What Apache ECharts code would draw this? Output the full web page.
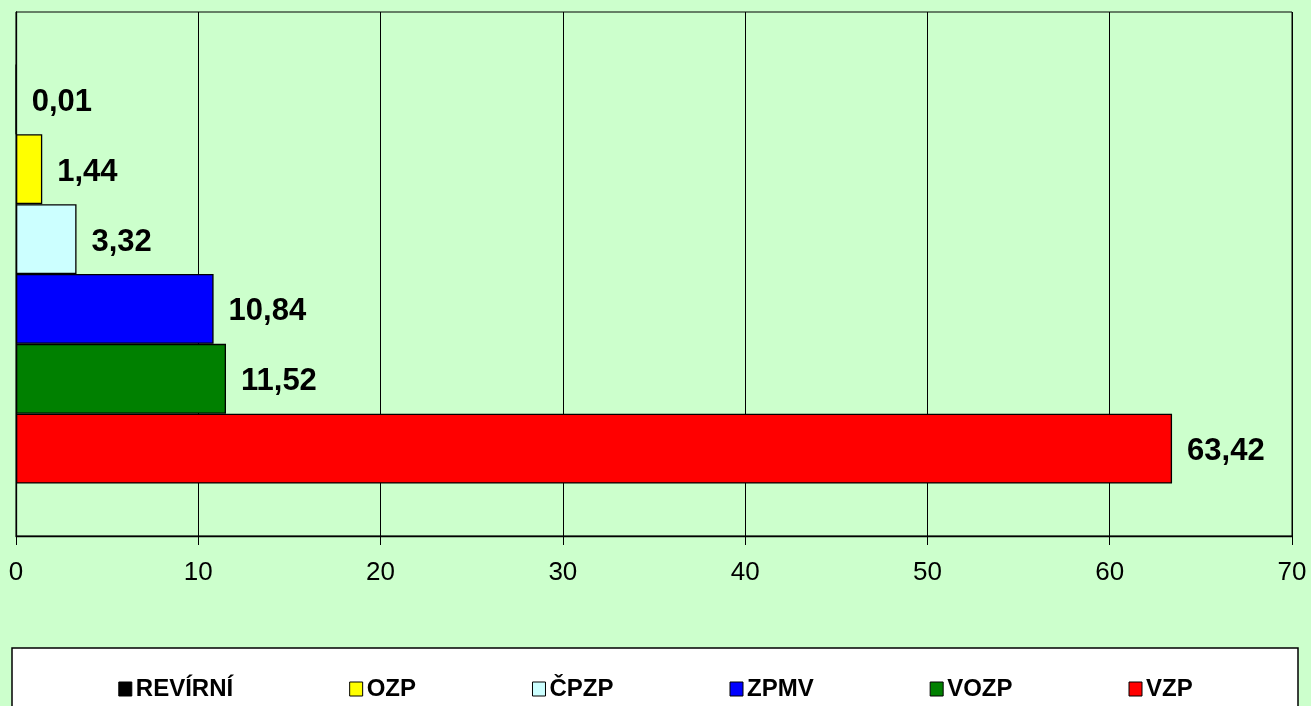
<!DOCTYPE html>
<html>
<head>
<meta charset="utf-8">
<script src="https://cdn.jsdelivr.net/npm/echarts@6/dist/echarts.min.js"></script>
<style>
html,body{margin:0;padding:0;background:#CCFFCC;}
#main{width:1311px;height:706px;}
</style>
</head>
<body>
<div id="main"></div>
<script>
// data: pojišťovny, podíl v %
var names = ['REVÍRNÍ', 'OZP', 'ČPZP', 'ZPMV', 'VOZP', 'VZP'];
var values = [0.01, 1.44, 3.32, 10.84, 11.52, 63.42];
var colors = ['#000000', '#FFFF00', '#CCFFFF', '#0000FF', '#008000', '#FF0000'];
var xTicks = [0, 10, 20, 30, 40, 50, 60, 70];

var FONT = '"Liberation Sans", Arial, sans-serif';

// first series is drawn on top of the band
var series = new Array();
for (var i = 0; i < names.length; i++) {
    series.push({
        type: 'bar',
        name: names[i],
        data: [values[i]],
        barGap: 0,
        barCategoryGap: '20%',
        itemStyle: { color: colors[i], borderColor: '#000', borderWidth: 1.3 },
        label: {
            show: true,
            position: 'right',
            distance: 15,
            offset: [0, 3],
            color: '#000',
            fontFamily: FONT,
            fontWeight: 'bold',
            fontSize: 31,
            formatter: function (p) {
                return p.value.toFixed(2).replace('.', ',');
            }
        }
    });
}

var option = {
    animation: false,
    backgroundColor: '#CCFFCC',
    grid: {
        left: 16, top: 12, right: 19, bottom: 170,
        show: true, borderColor: '#000', borderWidth: 1,
        backgroundColor: 'transparent'
    },
    xAxis: {
        type: 'value',
        min: xTicks[0],
        max: xTicks[xTicks.length - 1],
        interval: 10,
        axisLine: { show: true, lineStyle: { color: '#000', width: 1.3 } },
        axisTick: { show: true, length: 9, lineStyle: { color: '#000' } },
        axisLabel: { color: '#000', fontFamily: FONT, fontSize: 26, margin: 24 },
        splitLine: { show: true, lineStyle: { color: '#000', width: 1 } }
    },
    yAxis: {
        type: 'category',
        data: [''],
        axisLine: { show: true, lineStyle: { color: '#000', width: 1.3 } },
        axisTick: { show: false },
        axisLabel: { show: false }
    },
    legend: {
        data: names,
        left: 'center',
        top: 672,
        itemGap: 116,
        itemWidth: 13,
        itemHeight: 14,
        icon: 'rect',
        itemStyle: { borderColor: '#000', borderWidth: 1 },
        textStyle: { color: '#000', fontFamily: FONT, fontWeight: 'bold', fontSize: 24, padding: [0, 0, 0, -1] }
    },
    graphic: [{
        type: 'rect',
        z: -1,
        shape: { x: 12, y: 648, width: 1286, height: 70 },
        style: { fill: '#FFFFFF', stroke: '#000', lineWidth: 1.5 }
    }],
    series: series
};

var chart = echarts.init(document.getElementById('main'));
chart.setOption(option);
</script>
</body>
</html>
